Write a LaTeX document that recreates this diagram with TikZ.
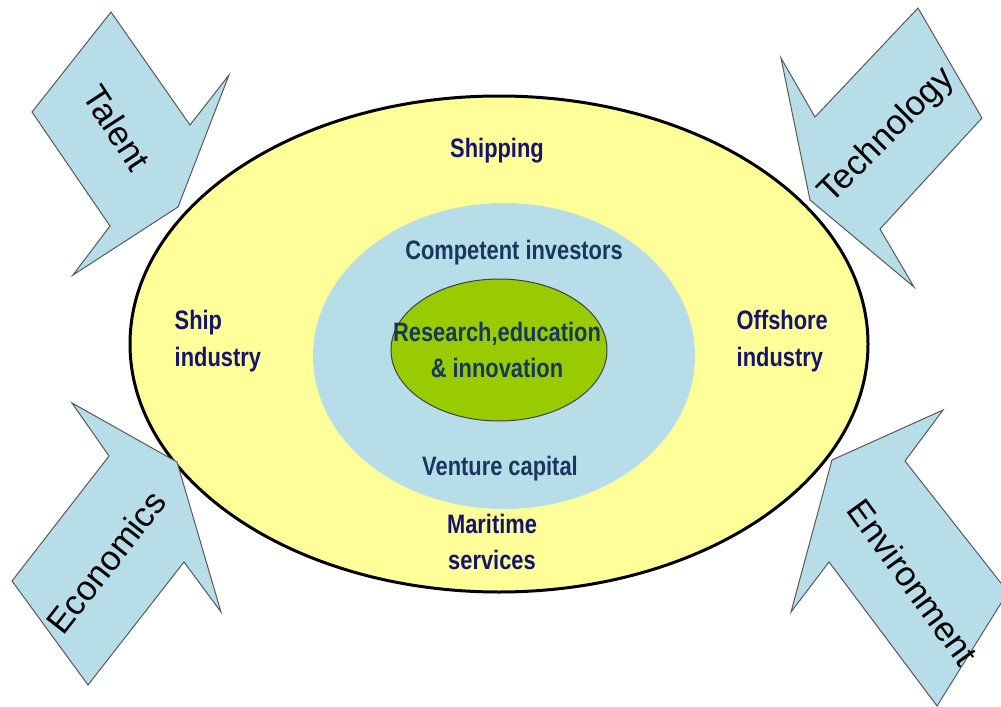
\documentclass[tikz,border=0pt]{standalone}
\usepackage{fontspec}
\setmainfont{Liberation Sans}
\newfontfamily\narrowsf[FakeStretch=0.82]{Liberation Sans}
\definecolor{paleyellow}{RGB}{255,255,153}
\definecolor{paleblue}{RGB}{183,221,232}
\definecolor{leafgreen}{RGB}{153,204,0}
\definecolor{navytext}{RGB}{20,20,110}
\definecolor{slatetext}{RGB}{23,55,94}
\tikzset{
  sector/.style={font=\narrowsf\bfseries\fontsize{20}{27.5}\selectfont, text=navytext, align=left},
  core/.style={font=\narrowsf\bfseries\fontsize{20}{27}\selectfont, text=slatetext, align=center},
  force/.style={fill=paleblue, draw=black!65, line width=0.75pt},
  forcelabel/.style={font=\fontsize{26}{30}\selectfont}
}

\begin{document}
\begin{tikzpicture}[x=0.75pt,y=-0.75pt]
        \useasboundingbox (0,0) rectangle (1001,707);
        \clip (0,0) rectangle (1001,707);
        \fill [white] (0,0) rectangle (1001,707);
        \draw [fill=paleyellow, line width=2.25pt] (499,344) ellipse (276.75pt and 186pt);
        \fill [paleblue] (504,356) ellipse (143.25pt and 114.75pt);
        \draw [fill=leafgreen, draw=black!75, line width=0.75pt] (499,350) ellipse (81pt and 53.25pt);
        \node [sector, align=center] (shipping) at (497,151) {Shipping};
        \node [sector, anchor=west] (shipind) at (170,341) {Ship\\industry};
        \node [sector, anchor=west] (offshore) at (732,341) {Offshore\\industry};
        \node [sector, align=center] (maritime) at (492,542) {Maritime\\services};
        \node [core] (investors) at (514,253) {Competent investors};
        \node [core] (research) at (497,350) {Research,education\\\& innovation};
        \node [core] (venture) at (500,469) {Venture capital};
        \draw [force] (178,207) -- (73,275) -- (110,226) -- (32,112) -- (111,12) -- (190,125) -- (229,75) -- cycle;
        \draw [force] (810,200) -- (781,58) -- (815,117) -- (918,8) -- (982,118) -- (880,229) -- (914,287) -- cycle;
        \draw [force] (177,462) -- (72,403) -- (109,456) -- (12,581) -- (88,685) -- (184,562) -- (221,612) -- cycle;
        \draw [force] (832,460) -- (943,410) -- (905,461) -- (1008,592) -- (937,706) -- (829,562) -- (791,612) -- cycle;
        \node [forcelabel, rotate=-57] (talent) at (117,128) {Talent};
        \node [forcelabel, rotate=45] (technology) at (887,136) {Technology};
        \node [forcelabel, rotate=52] (economics) at (106,562) {Economics};
        \node [forcelabel, rotate=-54] (environment) at (913,582) {Environment};
    \end{tikzpicture}
\end{document}
